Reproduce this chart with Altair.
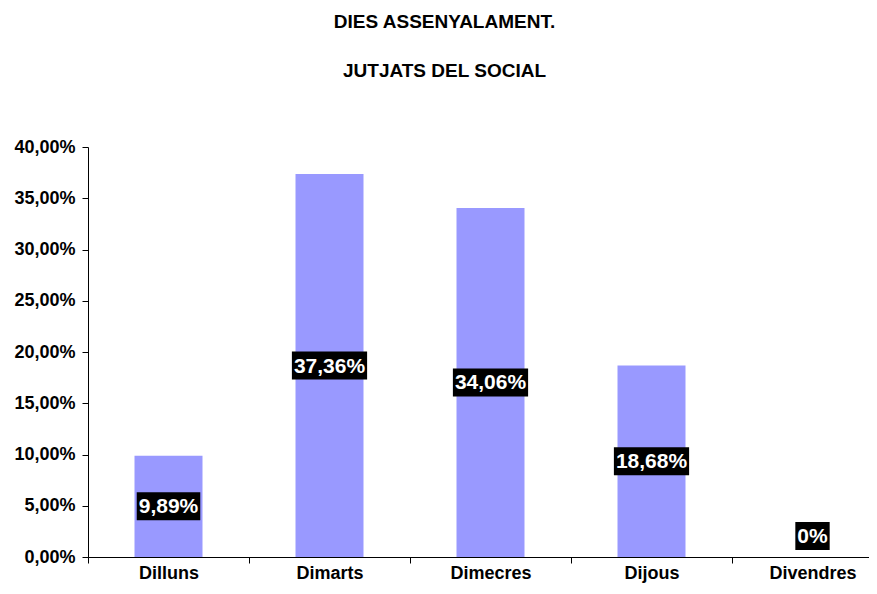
import altair as alt
import pandas as pd

days = ["Dilluns", "Dimarts", "Dimecres", "Dijous", "Divendres"]
values = [9.89, 37.36, 34.06, 18.68, 0.0]
labels = ["9,89%", "37,36%", "34,06%", "18,68%", "0%"]
y_ticks = [0.0, 0.05, 0.10, 0.15, 0.20, 0.25, 0.30, 0.35, 0.40]
title_lines = ["DIES ASSENYALAMENT.", "JUTJATS DEL SOCIAL"]

FONT = "Liberation Sans"
LABEL_SIZE = 21

df = pd.DataFrame({"day": days, "value": [v / 100 for v in values], "label": labels})
# label centre: middle of the bar (a zero bar gets its label just above the axis)
df["mid"] = df["value"].where(df["value"] > 0, 0.041) / 2


def text_width(s):
    em = {",": 0.278, "%": 0.889}
    return LABEL_SIZE * sum(em.get(c, 0.556) for c in s) + 4


df["boxw"] = df["label"].map(text_width)

x = alt.X(
    "day:N",
    sort=days,
    title=None,
    scale=alt.Scale(domain=days, range=[0, 805], paddingInner=0, paddingOuter=0),
    axis=alt.Axis(
        labelAngle=0,
        labelFont=FONT,
        labelFontSize=18,
        labelFontWeight="bold",
        labelColor="black",
        labelPadding=1,
        tickBand="extent",
        tickColor="black",
        tickSize=6,
        domainColor="black",
        grid=False,
    ),
)

bars = alt.Chart(df).mark_bar(color="#9999FF", size=68).encode(
    x=x,
    y=alt.Y(
        "value:Q",
        title=None,
        scale=alt.Scale(domain=[0, 0.4], nice=False),
        axis=alt.Axis(
            values=y_ticks,
            labelExpr="replace(format(datum.value, '.2%'), '.', ',')",
            labelFont=FONT,
            labelFontSize=18,
            labelFontWeight="bold",
            labelColor="black",
            labelPadding=7,
            tickColor="black",
            tickSize=6,
            domainColor="black",
            grid=False,
        ),
    ),
)

boxes = alt.Chart(df).mark_bar(color="black", yOffset=-14, y2Offset=14).encode(
    x=alt.X("day:N", sort=days),
    y=alt.Y("mid:Q"),
    y2="mid:Q",
    size=alt.Size("boxw:Q", scale=None, legend=None),
)

texts = alt.Chart(df).mark_text(
    color="white", font=FONT, fontSize=LABEL_SIZE, fontWeight="bold", baseline="middle", dy=1
).encode(
    x=alt.X("day:N", sort=days),
    y=alt.Y("mid:Q"),
    text="label:N",
)

chart = (
    alt.layer(bars, boxes, texts)
    .properties(
        width=781,
        height=410,
        background="white",
        autosize=alt.AutoSizeParams(type="none"),
        padding={"left": 80, "top": 139, "right": 0, "bottom": 29},
        title=alt.TitleParams(
            text=title_lines,
            font=FONT,
            fontSize=19,
            fontWeight="bold",
            color="black",
            lineHeight=49,
            anchor="middle",
            dx=-34,
            offset=57,
        ),
    )
    .configure_axis(grid=False)
    .configure_view(strokeWidth=0, stroke="transparent")
)

chart.save("out.html", embed_options={"renderer": "svg", "actions": False})
